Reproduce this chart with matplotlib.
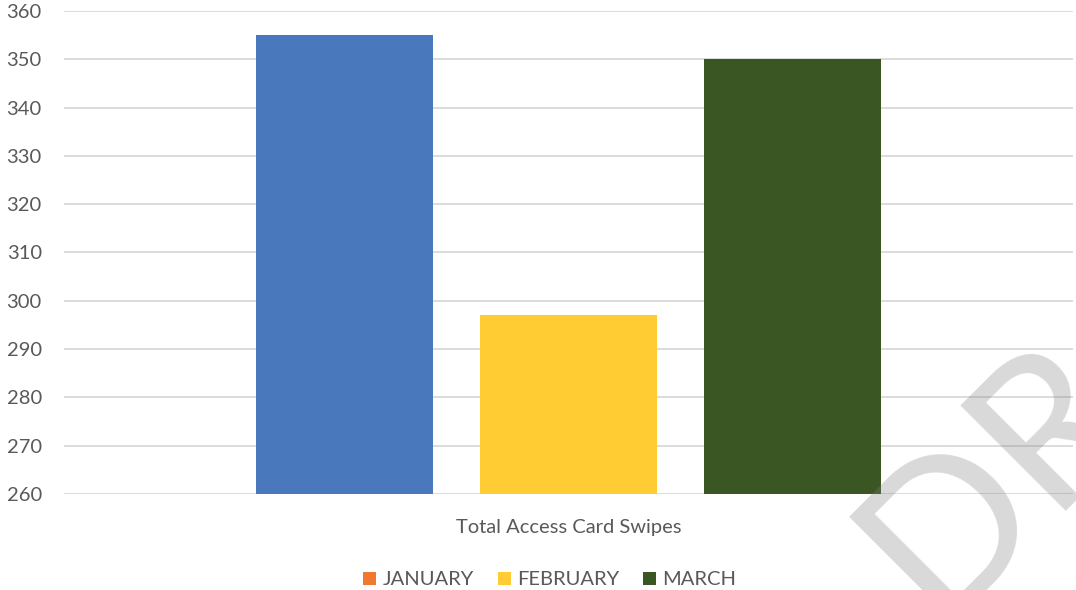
import matplotlib
matplotlib.use("Agg")
from matplotlib import pyplot as plt
from matplotlib.patches import Patch
import numpy as np

plt.rcParams['font.family'] = ['Lato', 'DejaVu Sans']

category = "Total Access Card Swipes"
months = ["JANUARY", "FEBRUARY", "MARCH"]
swipes = [355, 297, 350]
bar_colors = ["#4A78BD", "#FFCD33", "#3A5622"]
legend_colors = ["#F07830", "#FFCD33", "#3A5622"]
yticks = list(range(260, 361, 10))

fig = plt.figure(figsize=(10.76, 5.9), dpi=100)
ax = fig.add_axes([0.0595, 0.1627, 0.9375, 0.8187])

width = 0.1754
step = 0.222
offsets = (np.arange(len(months)) - 1) * step
for off, val, col in zip(offsets, swipes, bar_colors):
    ax.bar(off, val - yticks[0], bottom=yticks[0], width=width, color=col, zorder=2)

ax.set_xlim(-0.5, 0.5)
ax.set_ylim(yticks[0], yticks[-1])
ax.set_yticks(yticks)
ax.set_xticks([0])
ax.set_xticklabels([category])
ax.grid(axis='y', color='#d9d9d9', linewidth=1.3, zorder=0)
ax.set_axisbelow(True)
for s in ax.spines.values():
    s.set_visible(False)
ax.tick_params(axis='both', length=0, labelsize=14.5, colors='#595959')
ax.tick_params(axis='y', pad=16)
ax.tick_params(axis='x', pad=18)

handles = [Patch(facecolor=c, edgecolor='none') for c in legend_colors]
fig.legend(handles, months, loc='lower center', bbox_to_anchor=(0.511, -0.028), ncol=3,
           frameon=False, fontsize=14.5, labelcolor='#595959', handlelength=0.65,
           handleheight=0.65, handletextpad=0.3, columnspacing=1.2)

# draft watermark
fig.text(936 / 1076, 1 - 622 / 590, "DRAFT", fontsize=150, rotation=45,
         rotation_mode='anchor', ha='left', va='baseline', color='#808080',
         alpha=0.3, zorder=10)

fig.savefig("out.png", dpi=100)
